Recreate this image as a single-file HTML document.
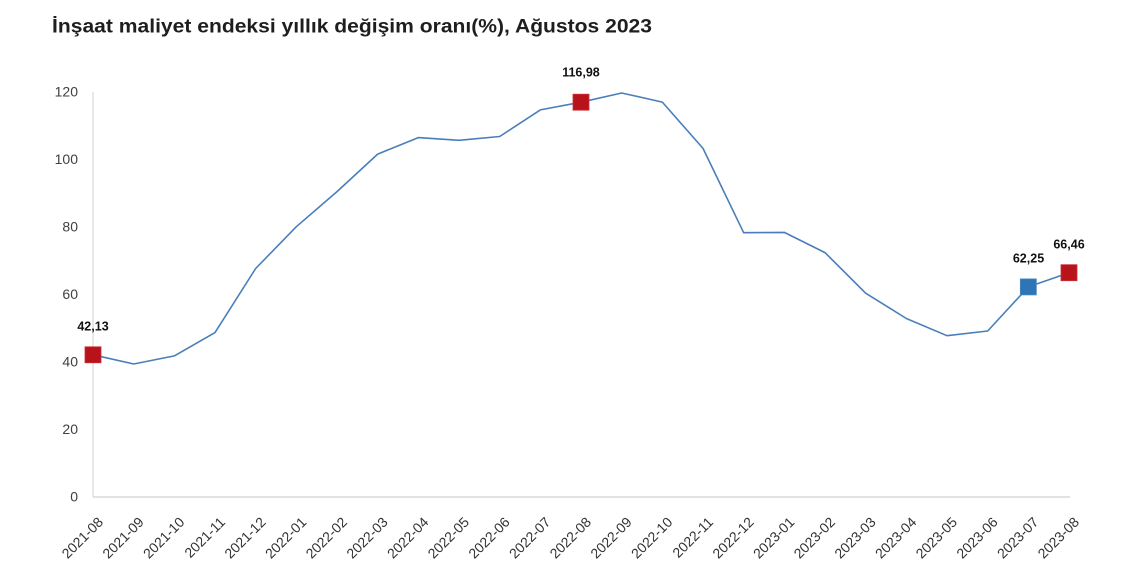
<!DOCTYPE html>
<html><head><meta charset="utf-8"><style>
html,body{margin:0;padding:0;background:#fff;}
svg{display:block;}
</style></head><body>
<svg width="1140" height="570" viewBox="0 0 1140 570" xmlns="http://www.w3.org/2000/svg" font-family="Liberation Sans, sans-serif">
<rect width="1140" height="570" fill="#fff"/>
<text x="52" y="32.5" font-size="19.5" font-weight="bold" fill="#1e1e1e" textLength="600" lengthAdjust="spacingAndGlyphs">İnşaat maliyet endeksi yıllık değişim oranı(%), Ağustos 2023</text>
<!-- axes -->
<line x1="93" y1="92" x2="93" y2="497" stroke="#d9d9d9" stroke-width="1.2"/>
<line x1="93" y1="497" x2="1070" y2="497" stroke="#d9d9d9" stroke-width="1.5"/>
<!-- y labels -->
<g font-size="14" fill="#404040" text-anchor="end">
<text x="78" y="96.5">120</text>
<text x="78" y="164">100</text>
<text x="78" y="231.5">80</text>
<text x="78" y="299">60</text>
<text x="78" y="366.5">40</text>
<text x="78" y="434">20</text>
<text x="78" y="501.5">0</text>
</g>
<!-- x labels -->
<g font-size="14" fill="#333" text-anchor="end">
<text transform="translate(104,523) rotate(-45)">2021-08</text>
<text transform="translate(144.67,523) rotate(-45)">2021-09</text>
<text transform="translate(185.33,523) rotate(-45)">2021-10</text>
<text transform="translate(226,523) rotate(-45)">2021-11</text>
<text transform="translate(266.67,523) rotate(-45)">2021-12</text>
<text transform="translate(307.33,523) rotate(-45)">2022-01</text>
<text transform="translate(348,523) rotate(-45)">2022-02</text>
<text transform="translate(388.67,523) rotate(-45)">2022-03</text>
<text transform="translate(429.33,523) rotate(-45)">2022-04</text>
<text transform="translate(470,523) rotate(-45)">2022-05</text>
<text transform="translate(510.67,523) rotate(-45)">2022-06</text>
<text transform="translate(551.33,523) rotate(-45)">2022-07</text>
<text transform="translate(592,523) rotate(-45)">2022-08</text>
<text transform="translate(632.67,523) rotate(-45)">2022-09</text>
<text transform="translate(673.33,523) rotate(-45)">2022-10</text>
<text transform="translate(714,523) rotate(-45)">2022-11</text>
<text transform="translate(754.67,523) rotate(-45)">2022-12</text>
<text transform="translate(795.33,523) rotate(-45)">2023-01</text>
<text transform="translate(836,523) rotate(-45)">2023-02</text>
<text transform="translate(876.67,523) rotate(-45)">2023-03</text>
<text transform="translate(917.33,523) rotate(-45)">2023-04</text>
<text transform="translate(958,523) rotate(-45)">2023-05</text>
<text transform="translate(998.67,523) rotate(-45)">2023-06</text>
<text transform="translate(1039.33,523) rotate(-45)">2023-07</text>
<text transform="translate(1080,523) rotate(-45)">2023-08</text>
</g>
<!-- line -->
<polyline fill="none" stroke="#4a7ebb" stroke-width="1.6" stroke-linejoin="round" points="93,354.8 133.67,364 174.33,355.9 215,332.6 255.67,268.5 296.33,226.7 337,191.6 377.67,154.1 418.33,137.6 459,140.3 499.67,136.5 540.33,109.9 581,102.2 621.67,93 662.33,102.1 703,148.4 743.67,232.7 784.33,232.4 825,252.6 865.67,293.2 906.33,318.5 947,335.7 987.67,331 1028.33,286.9 1069,272.7"/>
<!-- markers -->
<rect x="85" y="346.8" width="16" height="16" fill="#b8121b" stroke="#c8323a" stroke-width="0.8"/>
<rect x="573" y="94.2" width="16" height="16" fill="#b8121b" stroke="#c8323a" stroke-width="0.8"/>
<rect x="1020.33" y="278.9" width="16" height="16" fill="#2e75b6" stroke="#4a88c4" stroke-width="0.8"/>
<rect x="1061" y="264.7" width="16" height="16" fill="#b8121b" stroke="#c8323a" stroke-width="0.8"/>
<!-- data labels -->
<g font-size="12.5" font-weight="bold" fill="#111" text-anchor="middle">
<text x="93" y="330.5">42,13</text>
<text x="581" y="76.5">116,98</text>
<text x="1028.5" y="262.5">62,25</text>
<text x="1069" y="248.5">66,46</text>
</g>
</svg>
</body></html>
